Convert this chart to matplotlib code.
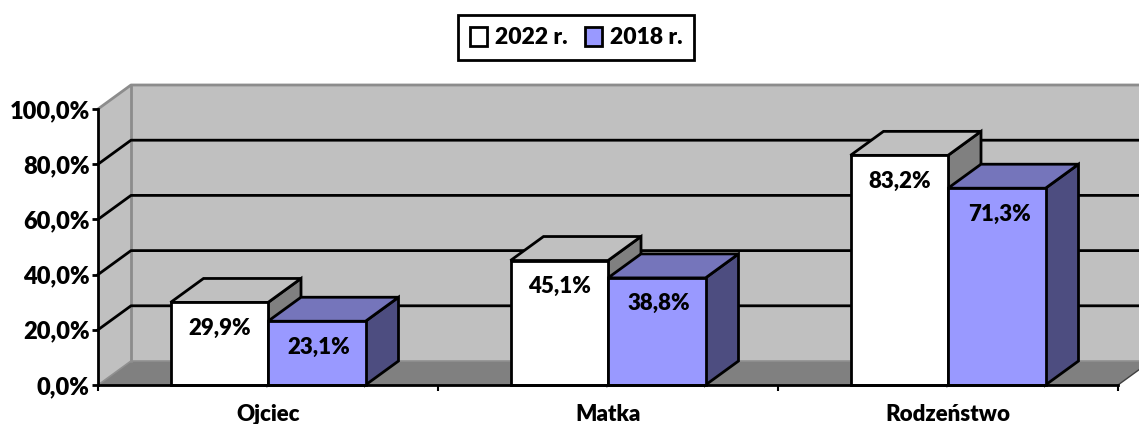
import matplotlib
matplotlib.use("Agg")
import matplotlib.pyplot as plt
from matplotlib.patches import Patch, Polygon

plt.rcParams['font.family'] = ['Lato', 'DejaVu Sans']
plt.rcParams['font.weight'] = 'heavy'

categories = ["Ojciec", "Matka", "Rodzeństwo"]
series_names = ["2022 r.", "2018 r."]
values_2022 = [29.9, 45.1, 83.2]
values_2018 = [23.1, 38.8, 71.3]
yticks = [0, 20, 40, 60, 80, 100]

WALL = "#c0c0c0"
FLOOR = "#808080"
# front, top, side
COLORS = [("#ffffff", "#c0c0c0", "#808080"),
          ("#9999ff", "#7575bb", "#4d4d80")]

W, H = 1139, 424
fig = plt.figure(figsize=(W / 100, H / 100), dpi=100)
ax = fig.add_axes([98 / W, 1 - 385 / H, 1020 / W, 276 / H])
ax.set_xlim(0, 3)
ax.set_ylim(0, 100)
ax.patch.set_visible(False)

# depth of the fake 3d box, in data units
dx = 33 / 340
dy = 24 / 2.76
bar_w = 97.5 / 340
LW = 2.0


def poly(pts, fc, ec="black", lw=LW, z=2):
    ax.add_patch(Polygon(pts, closed=True, facecolor=fc, edgecolor=ec,
                         linewidth=lw, zorder=z, clip_on=False, joinstyle="miter"))


# walls and floor
poly([(dx, dy), (3 + 2 * dx, dy), (3 + 2 * dx, 100 + dy), (dx, 100 + dy)], WALL, ec="none", z=1)
poly([(0, 0), (dx, dy), (dx, 100 + dy), (0, 100)], WALL, ec="none", z=1)
poly([(0, 0), (3, 0), (3 + dx, dy), (dx, dy)], FLOOR, ec="none", z=1)
ax.plot([0, dx, 3 + 2 * dx], [100, 100 + dy, 100 + dy], color="#8c8c8c", lw=LW, zorder=1.5, clip_on=False)
ax.plot([dx, dx], [dy, 100 + dy], color="#8c8c8c", lw=LW, zorder=1.5, clip_on=False)
ax.plot([0, dx, 3 + 2 * dx], [0, dy, dy], color="#909090", lw=1.2, zorder=1.5, clip_on=False)
ax.plot([3, 3 + dx], [0, dy], color="#404040", lw=1.0, zorder=1.5, clip_on=False)

# gridlines on the walls
for v in yticks[1:-1]:
    ax.plot([0, dx, 3 + 2 * dx], [v, v + dy, v + dy], color="black", lw=LW, zorder=1.6, clip_on=False)

# bars
for i, cat in enumerate(categories):
    for j, vals in enumerate([values_2022, values_2018]):
        v = vals[i]
        x0 = i + 0.5 - bar_w + j * bar_w
        x1 = x0 + bar_w
        front, top, side = COLORS[j]
        z = 3 + j
        poly([(x1, 0), (x1 + dx, dy), (x1 + dx, v + dy), (x1, v)], side, z=z)
        poly([(x0, v), (x1, v), (x1 + dx, v + dy), (x0 + dx, v + dy)], top, z=z)
        poly([(x0, 0), (x1, 0), (x1, v), (x0, v)], front, z=z)
        ax.text((x0 + x1) / 2 + j * 2.5 / 340, v - 9.4, f"{v:.1f}%".replace(".", ","),
                ha="center", va="center", fontsize=16, fontweight="heavy", zorder=6)

# axes
for s in ["top", "right"]:
    ax.spines[s].set_visible(False)
for s in ["left", "bottom"]:
    ax.spines[s].set_linewidth(LW)
    ax.spines[s].set_zorder(7)
ax.set_yticks(yticks)
ax.set_yticklabels([f"{v:.1f}%".replace(".", ",") for v in yticks], fontsize=17, fontweight="heavy")
ax.tick_params(axis="y", length=4, width=LW, pad=2)
ax.set_xticks([0, 1, 2, 3])
ax.set_xticklabels([])
ax.tick_params(axis="x", which="major", length=4, width=1.5)
ax.set_xticks([0.5, 1.5, 2.5], minor=True)
ax.set_xticklabels(categories, minor=True, fontsize=16, fontweight="heavy")
ax.tick_params(axis="x", which="minor", length=0, pad=13.5)

handles = [Patch(facecolor=COLORS[0][0], edgecolor="black", linewidth=LW),
           Patch(facecolor=COLORS[1][0], edgecolor="black", linewidth=LW)]
fig.legend(handles, series_names, loc="center", bbox_to_anchor=(576 / W, 1 - 37.5 / H),
           ncol=2, frameon=True, fancybox=False, edgecolor="black", framealpha=1,
           prop={"size": 16.5, "weight": "heavy"}, handlelength=0.75, handleheight=0.9,
           handletextpad=0.35, columnspacing=0.75, borderpad=0.5).get_frame().set_linewidth(LW)

fig.savefig("out.png", dpi=100)
